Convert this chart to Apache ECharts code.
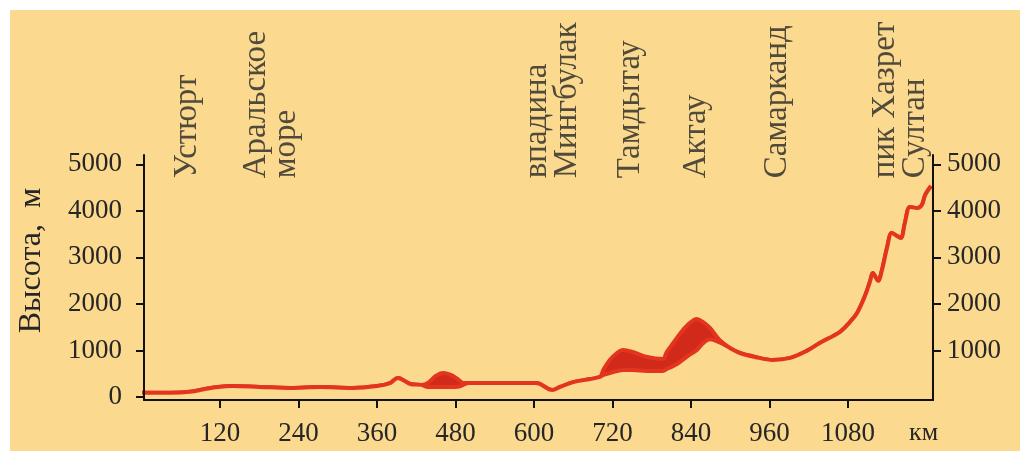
<!DOCTYPE html>
<html>
<head>
<meta charset="utf-8">
<script src="https://cdn.jsdelivr.net/npm/echarts@6/dist/echarts.min.js"></script>
<style>
html,body{margin:0;padding:0;background:#ffffff;width:1025px;height:455px;overflow:hidden;}
#bg{position:absolute;left:10px;top:10px;right:5px;bottom:4px;background:#fbd98e;}
#chart{position:absolute;left:0;top:0;width:1025px;height:455px;}
</style>
</head>
<body>
<div id="bg"></div>
<div id="chart"></div>
<script>
// distance along profile, km
const kmPoints = [-25, 4, 44, 74, 97, 117, 139, 181, 227, 273, 323, 360, 380, 392, 411, 428, 438, 450, 461, 472, 483, 492, 500, 521, 602, 609, 628, 640, 660, 686, 701, 706, 716, 727, 736, 751, 773, 797, 803, 813, 823, 835, 849, 858, 869, 884, 900, 915, 938, 965, 992, 1017, 1037, 1068, 1083, 1094, 1106, 1114, 1118, 1126, 1132, 1140, 1147, 1155, 1161, 1167, 1175, 1186, 1193, 1198, 1207];
// lower edge of the profile band, m
const lowerEdge = [90, 90, 90, 110, 170, 215, 235, 215, 195, 215, 195, 235, 300, 410, 280, 260, 215, 215, 215, 215, 220, 260, 300, 300, 300, 280, 150, 215, 320, 385, 430, 473, 516, 559, 580, 580, 560, 560, 600, 666, 752, 880, 1010, 1150, 1240, 1170, 1050, 945, 860, 795, 840, 990, 1160, 1400, 1610, 1805, 2170, 2495, 2665, 2495, 2730, 3225, 3525, 3460, 3415, 3740, 4085, 4060, 4125, 4340, 4535];
// upper edge of the profile band, m
const upperEdge = [90, 90, 90, 110, 170, 215, 235, 215, 195, 215, 195, 235, 300, 410, 280, 260, 300, 450, 515, 480, 390, 300, 300, 300, 300, 280, 150, 215, 320, 385, 430, 580, 795, 945, 1010, 967, 860, 817, 967, 1160, 1354, 1547, 1676, 1612, 1483, 1220, 1050, 945, 860, 795, 840, 990, 1160, 1400, 1610, 1805, 2170, 2495, 2665, 2495, 2730, 3225, 3525, 3460, 3415, 3740, 4085, 4060, 4125, 4340, 4535];

const xTickValues = [120, 240, 360, 480, 600, 720, 840, 960, 1080];
const yTickLeft = [0, 1000, 2000, 3000, 4000, 5000];
const yTickRight = [1000, 2000, 3000, 4000, 5000];

const placeNames = ['Устюрт', 'Аральское\nморе', 'впадина\nМингбулак', 'Тамдытау', 'Актау', 'Самарканд', 'пик Хазрет\nСултан'];
const placeKm = [70, 198, 628, 747, 849, 972, 1160];

const LABEL_BASE = 4700;
const FONT = 'Liberation Serif';
const RED = '#e3341f';
const RED_DARK = '#d22a1a';
const BG = '#fbd98e';
const TXT = '#262626';

const lowData = kmPoints.map((k, i) => [k, lowerEdge[i]]);
const highData = kmPoints.map((k, i) => [k, upperEdge[i]]);
const placeData = placeKm.map((k, i) => ({ value: [k, LABEL_BASE], name: placeNames[i] }));

const plain = v => String(v);
const axisLabelStyle = { fontFamily: FONT, fontSize: 27, color: TXT, formatter: plain };
const axisLineStyle = { color: '#111', width: 2 };

const chart = echarts.init(document.getElementById('chart'), null, { renderer: 'canvas' });
chart.setOption({
  backgroundColor: 'transparent',
  animation: false,
  grid: { left: 144, right: 92, top: 155, bottom: 55 },
  xAxis: {
    type: 'value', min: 4, max: 1210, z: 10,
    axisLine: { show: true, onZero: false, lineStyle: axisLineStyle },
    axisTick: { show: true, length: 8, lineStyle: axisLineStyle, customValues: xTickValues },
    axisLabel: Object.assign({ margin: 20, customValues: xTickValues }, axisLabelStyle),
    splitLine: { show: false },
    name: 'км', nameLocation: 'end', nameGap: -24,
    nameTextStyle: { fontFamily: FONT, fontSize: 26, color: TXT, align: 'left', verticalAlign: 'top', padding: [20, 0, 0, 0] }
  },
  yAxis: [{
    type: 'value', min: -65, max: 5200, position: 'left', z: 10,
    axisLine: { show: true, onZero: false, lineStyle: axisLineStyle },
    axisTick: { show: true, length: 8, lineStyle: axisLineStyle, customValues: yTickLeft },
    axisLabel: Object.assign({ margin: 22, customValues: yTickLeft }, axisLabelStyle),
    splitLine: { show: false },
    name: 'Высота,  м', nameLocation: 'middle', nameGap: 96, nameRotate: 90,
    nameTextStyle: { fontFamily: FONT, fontSize: 32, color: TXT, padding: [0, 0, 0, 34] }
  }, {
    type: 'value', min: -65, max: 5200, position: 'right', z: 10,
    axisLine: { show: true, onZero: false, lineStyle: axisLineStyle },
    axisTick: { show: true, length: 8, lineStyle: axisLineStyle, customValues: yTickRight },
    axisLabel: Object.assign({ margin: 14, customValues: yTickRight }, axisLabelStyle),
    splitLine: { show: false }
  }],
  series: [{
    type: 'line', name: 'upper', data: highData, smooth: 0.35, z: 2,
    symbol: 'none', clip: false,
    lineStyle: { color: RED, width: 4 },
    areaStyle: { color: RED_DARK, opacity: 1, origin: 'start' }
  }, {
    type: 'line', name: 'lower', data: lowData, smooth: 0.35, z: 3,
    symbol: 'none', clip: false,
    lineStyle: { color: RED, width: 4 },
    areaStyle: { color: BG, opacity: 1, origin: 'start' }
  }, {
    type: 'scatter', data: placeData, symbolSize: 0, silent: true, z: 5,
    label: {
      show: true, position: 'inside', rotate: 90, align: 'left', verticalAlign: 'middle',
      formatter: '{b}', fontFamily: FONT, fontSize: 33, lineHeight: 30, color: TXT
    }
  }]
});
</script>
</body>
</html>
